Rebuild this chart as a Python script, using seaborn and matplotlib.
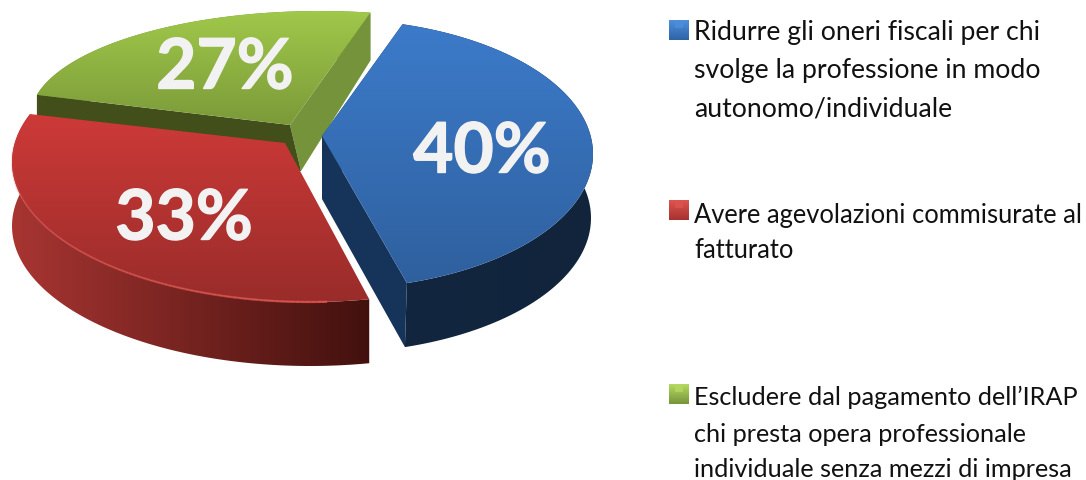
import numpy as np
import matplotlib.pyplot as plt
import matplotlib.patheffects as pe
import seaborn as sns
from matplotlib.collections import LineCollection
from matplotlib.patches import Polygon

# values, in clockwise order
shares = [40, 33, 27]
legend_lines = [
    ["Ridurre gli oneri fiscali per chi", "svolge la professione in modo", "autonomo/individuale"],
    ["Avere agevolazioni commisurate al", "fatturato"],
    ["Escludere dal pagamento dell\u2019IRAP", "chi presta opera professionale", "individuale senza mezzi di impresa"],
]

# look of each slice: ellipse of the rim, apex, perspective of the angles, extrusion
slice_shapes = [
    dict(center=(330, 155), rx=263, ry=135, apex=(322, 137), slope=1.0208, offset=0.5,
         rim_drop=(-2, 64), apex_drop=(0, 63), top=("#3c7bca", "#2f609e"), wall=("#12263f", "#11243c"),
         cut_start="#16345a", cut_end="#16345a"),
    dict(center=(310, 163), rx=298, ry=140, apex=(285, 144), slope=1.0227, offset=-4.9,
         rim_drop=(0, 64), apex_drop=(0, 64), top=("#cd3a38", "#992c2a"), wall=("#a83532", "#42110e"),
         cut_start=None, cut_end=None),
    dict(center=(320, 119), rx=290, ry=107, apex=(290, 126), slope=0.9, offset=-20.8,
         rim_drop=(0, 48), apex_drop=(11, 46), top=("#a0c84a", "#7b9a39"), wall=("#74933a", "#74933a"),
         cut_start="#74933a", cut_end="#434f1a"),
]
label_spots = [(482, 148), (184, 215), (225, 64)]
legend_squares = [(669, 21, "#2f64a8", "#4d8fdc"), (669, 201, "#a83230", "#dc5450"), (669, 385, "#76963a", "#b4d860")]
legend_baselines = [[40, 78, 117], [223, 258], [405, 442, 477]]
legend_sizes = [19.2, 18.4, 18.2]

sns.set_theme(style="white")
plt.rcParams['font.family'] = ['Lato', 'DejaVu Sans']

fig = plt.figure(figsize=(10.86, 4.81), dpi=100)
ax = fig.add_axes([0, 0, 1, 1])

# pie turns the shares into angles, the slices are then drawn in perspective
wedges, _ = ax.pie(shares, startangle=72, counterclock=False)


def rim_points(wedge, shape):
    theta = np.linspace(wedge.theta1, wedge.theta2, 120)
    phi = np.radians(theta * shape["slope"] + shape["offset"])
    x = shape["center"][0] + shape["rx"] * np.cos(phi)
    y = shape["center"][1] - shape["ry"] * np.sin(phi)
    return np.column_stack([x, y])


def gradient_fill(points, colors, box, vertical=True, zorder=1):
    cmap = sns.blend_palette(colors, as_cmap=True)
    ramp = np.linspace(0, 1, 256)
    ramp = ramp.reshape(-1, 1) if vertical else ramp.reshape(1, -1)
    poly = Polygon(points, closed=True, fc="none", ec="none", zorder=zorder)
    ax.add_patch(poly)
    im = ax.imshow(ramp, cmap=cmap, extent=box, aspect="auto", origin="upper", zorder=zorder)
    im.set_clip_path(poly)


# green goes first, blue and red sit in front of it
draw_order = [2, 0, 1]
for n, i in enumerate(draw_order):
    wedge, shape = wedges[i], slice_shapes[i]
    wedge.set_visible(False)
    base = 2 + n * 5
    rim = rim_points(wedge, shape)
    apex = np.array(shape["apex"], dtype=float)
    rim_low = rim + shape["rim_drop"]
    apex_low = apex + shape["apex_drop"]

    wall = np.vstack([rim, rim_low[::-1]])
    gradient_fill(wall, shape["wall"], (wall[:, 0].min(), wall[:, 0].max(), wall[:, 1].max(), wall[:, 1].min()),
                  vertical=False, zorder=base)
    # rim runs from theta1 to theta2, so rim[0] and rim[-1] are the two corners
    if shape["cut_start"]:
        ax.add_patch(Polygon([apex, rim[0], rim_low[0], apex_low], closed=True,
                             fc=shape["cut_start"], ec="none", zorder=base + 1))
        ax.add_patch(Polygon([apex, rim[-1], rim_low[-1], apex_low], closed=True,
                             fc=shape["cut_end"], ec="none", zorder=base + 2))

    top = np.vstack([rim, apex])
    gradient_fill(top, shape["top"], (top[:, 0].min(), top[:, 0].max(), top[:, 1].max(), top[:, 1].min()),
                  zorder=base + 3)

# light edge on the front of the red slice
red_rim = rim_points(wedges[1], slice_shapes[1])[::-1]
red_rim = red_rim[red_rim[:, 0] < 330]
segments = np.stack([red_rim[:-1], red_rim[1:]], axis=1)
fade = [(0.88, 0.33, 0.31, a) for a in np.linspace(0.9, 0.0, len(segments))]
ax.add_collection(LineCollection(segments, colors=fade, linewidths=1.6, zorder=30))

for value, spot in zip(shares, label_spots):
    ax.text(spot[0], spot[1], f"{value}%", color="#f2f2f2", fontsize=50, fontweight="bold",
            ha="center", va="center_baseline", zorder=40,
            path_effects=[pe.withStroke(linewidth=1.0, foreground="#f2f2f2")])

for lines, baselines, square, size in zip(legend_lines, legend_baselines, legend_squares, legend_sizes):
    x0, y0, dark, light = square
    ramp = np.linspace(0, 1, 20).reshape(-1, 1)
    ax.imshow(ramp, cmap=sns.blend_palette([light, dark], as_cmap=True), aspect="auto",
              extent=(x0, x0 + 20, y0 + 20, y0), zorder=5)
    ax.add_patch(plt.Rectangle((x0 + 6, y0 + 2), 8, 6, fc=light, ec="none", alpha=0.8, zorder=6))
    for line, base in zip(lines, baselines):
        ax.text(694, base, line, color="#111111", fontsize=size, va="baseline", ha="left", zorder=40)

ax.set_xlim(0, 1086)
ax.set_ylim(481, 0)
ax.set_aspect("auto")
ax.axis("off")

plt.savefig("out.png", dpi=100)
